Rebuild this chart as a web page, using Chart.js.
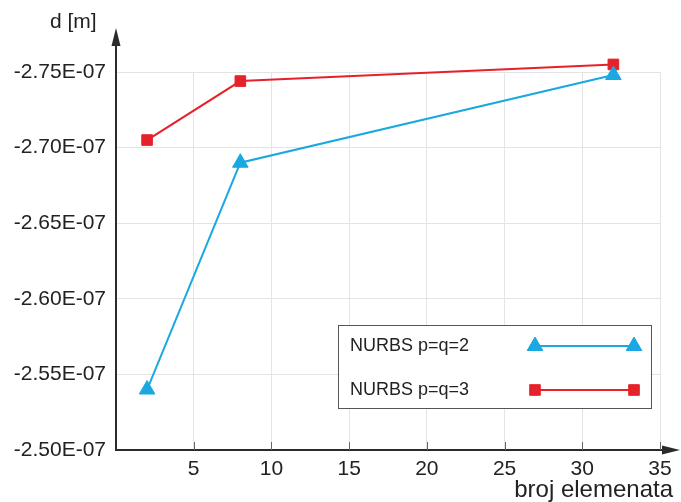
<!DOCTYPE html>
<html>
<head>
<meta charset="utf-8">
<title>d vs broj elemenata</title>
<script src="https://cdn.jsdelivr.net/npm/chart.js@4/dist/chart.umd.min.js"></script>
<style>
  html, body { margin: 0; padding: 0; background: #ffffff; }
  #chart { display: block; }
</style>
</head>
<body>
<canvas id="chart" width="681" height="502"></canvas>
<script>
// data
const elementCounts = [2, 8, 32];
const nurbsP2 = [-2.540e-7, -2.690e-7, -2.748e-7];
const nurbsP3 = [-2.705e-7, -2.744e-7, -2.755e-7];
const seriesLabels = ['NURBS p=q=2', 'NURBS p=q=3'];
const xTicks = [5, 10, 15, 20, 25, 30, 35];
const yTicks = [-2.75e-7, -2.70e-7, -2.65e-7, -2.60e-7, -2.55e-7, -2.50e-7];

const BLUE = '#19a8e2';
const RED = '#e52229';
const FONT = "'Liberation Sans', Arial, sans-serif";

function toPoints(ys) {
    return elementCounts.map((x, i) => ({ x: x, y: ys[i] }));
}

// axes with arrows, small ticks, axis titles and the boxed legend
const decorations = {
    id: 'decorations',
    afterDraw(chart) {
        const ctx = chart.ctx;
        const area = chart.chartArea;
        const xs = chart.scales.x;
        ctx.save();

        // axis lines
        ctx.strokeStyle = '#2b2b2b';
        ctx.fillStyle = '#2b2b2b';
        ctx.lineWidth = 2;
        ctx.beginPath();
        ctx.moveTo(area.left, area.bottom + 1);
        ctx.lineTo(area.left, 40);
        ctx.moveTo(area.left - 1, area.bottom);
        ctx.lineTo(666, area.bottom);
        ctx.stroke();

        // arrow heads
        ctx.beginPath();
        ctx.moveTo(area.left, 28);
        ctx.lineTo(area.left - 4.5, 46);
        ctx.lineTo(area.left + 4.5, 46);
        ctx.closePath();
        ctx.fill();
        ctx.beginPath();
        ctx.moveTo(680, area.bottom);
        ctx.lineTo(662, area.bottom - 4.5);
        ctx.lineTo(662, area.bottom + 4.5);
        ctx.closePath();
        ctx.fill();

        // short x ticks above the axis
        ctx.lineWidth = 1;
        ctx.strokeStyle = '#666';
        ctx.beginPath();
        xTicks.forEach(v => {
            const px = Math.round(xs.getPixelForValue(v)) + 0.5;
            ctx.moveTo(px, area.bottom - 8);
            ctx.lineTo(px, area.bottom);
        });
        ctx.stroke();

        // axis titles
        ctx.fillStyle = '#222';
        ctx.font = '21px ' + FONT;
        ctx.textBaseline = 'middle';
        ctx.textAlign = 'left';
        ctx.fillText('d [m]', 50, 22);
        ctx.font = '24px ' + FONT;
        ctx.textAlign = 'right';
        ctx.fillText('broj elemenata', 673, 490);

        // legend box
        const box = { x: 338.5, y: 325.5, w: 313, h: 83 };
        ctx.fillStyle = '#ffffff';
        ctx.fillRect(box.x, box.y, box.w, box.h);
        ctx.strokeStyle = '#555';
        ctx.lineWidth = 1;
        ctx.strokeRect(box.x, box.y, box.w, box.h);

        const rows = [346, 390];
        chart.data.datasets.forEach((ds, i) => {
            const y = rows[i];
            ctx.fillStyle = '#222';
            ctx.font = '18px ' + FONT;
            ctx.textAlign = 'left';
            ctx.textBaseline = 'middle';
            ctx.fillText(ds.label, 350, y);
            ctx.strokeStyle = ds.borderColor;
            ctx.lineWidth = ds.borderWidth;
            ctx.beginPath();
            ctx.moveTo(535, y);
            ctx.lineTo(634, y);
            ctx.stroke();
            const opts = {
                pointStyle: ds.pointStyle,
                radius: ds.pointRadius,
                rotation: 0,
                borderWidth: 1
            };
            ctx.fillStyle = ds.pointBackgroundColor;
            ctx.strokeStyle = ds.pointBorderColor;
            ctx.lineWidth = 1;
            [535, 634].forEach(px => Chart.helpers.drawPoint(ctx, opts, px, y));
        });

        ctx.restore();
    }
};

const chart = new Chart(document.getElementById('chart').getContext('2d'), {
    type: 'line',
    data: {
        datasets: [
            {
                label: seriesLabels[0],
                data: toPoints(nurbsP2),
                borderColor: BLUE,
                backgroundColor: BLUE,
                pointBackgroundColor: BLUE,
                pointBorderColor: BLUE,
                borderWidth: 2,
                pointStyle: 'triangle',
                pointRadius: 9,
                pointBorderWidth: 1,
                tension: 0,
                clip: false
            },
            {
                label: seriesLabels[1],
                data: toPoints(nurbsP3),
                borderColor: RED,
                backgroundColor: RED,
                pointBackgroundColor: RED,
                pointBorderColor: RED,
                borderWidth: 2,
                pointStyle: 'rect',
                pointRadius: 7.5,
                pointBorderWidth: 1,
                tension: 0,
                clip: false
            }
        ]
    },
    options: {
        responsive: false,
        animation: false,
        layout: { padding: { top: 72, right: 21, left: 0, bottom: 0 } },
        plugins: {
            legend: { display: false },
            tooltip: { enabled: false }
        },
        scales: {
            x: {
                type: 'linear',
                min: 0,
                max: 35,
                afterBuildTicks: scale => {
                    scale.ticks = [0].concat(xTicks).map(v => ({ value: v }));
                },
                afterFit: scale => { scale.height = 52; },
                border: { display: false },
                grid: { color: '#e4e4e4', lineWidth: 1, drawTicks: false },
                ticks: {
                    padding: 7,
                    color: '#222',
                    font: { family: FONT, size: 21 },
                    maxRotation: 0,
                    callback: v => (v === 0 ? '' : String(v))
                }
            },
            y: {
                type: 'linear',
                reverse: true,
                min: -2.75e-7,
                max: -2.50e-7,
                afterBuildTicks: scale => {
                    scale.ticks = yTicks.map(v => ({ value: v }));
                },
                afterFit: scale => { scale.width = 116; },
                border: { display: false },
                grid: { color: '#e4e4e4', lineWidth: 1, drawTicks: false },
                ticks: {
                    padding: 10,
                    color: '#222',
                    font: { family: FONT, size: 21 },
                    callback: v => (v * 1e7).toFixed(2) + 'E-07'
                }
            }
        }
    },
    plugins: [decorations]
});
</script>
</body>
</html>
